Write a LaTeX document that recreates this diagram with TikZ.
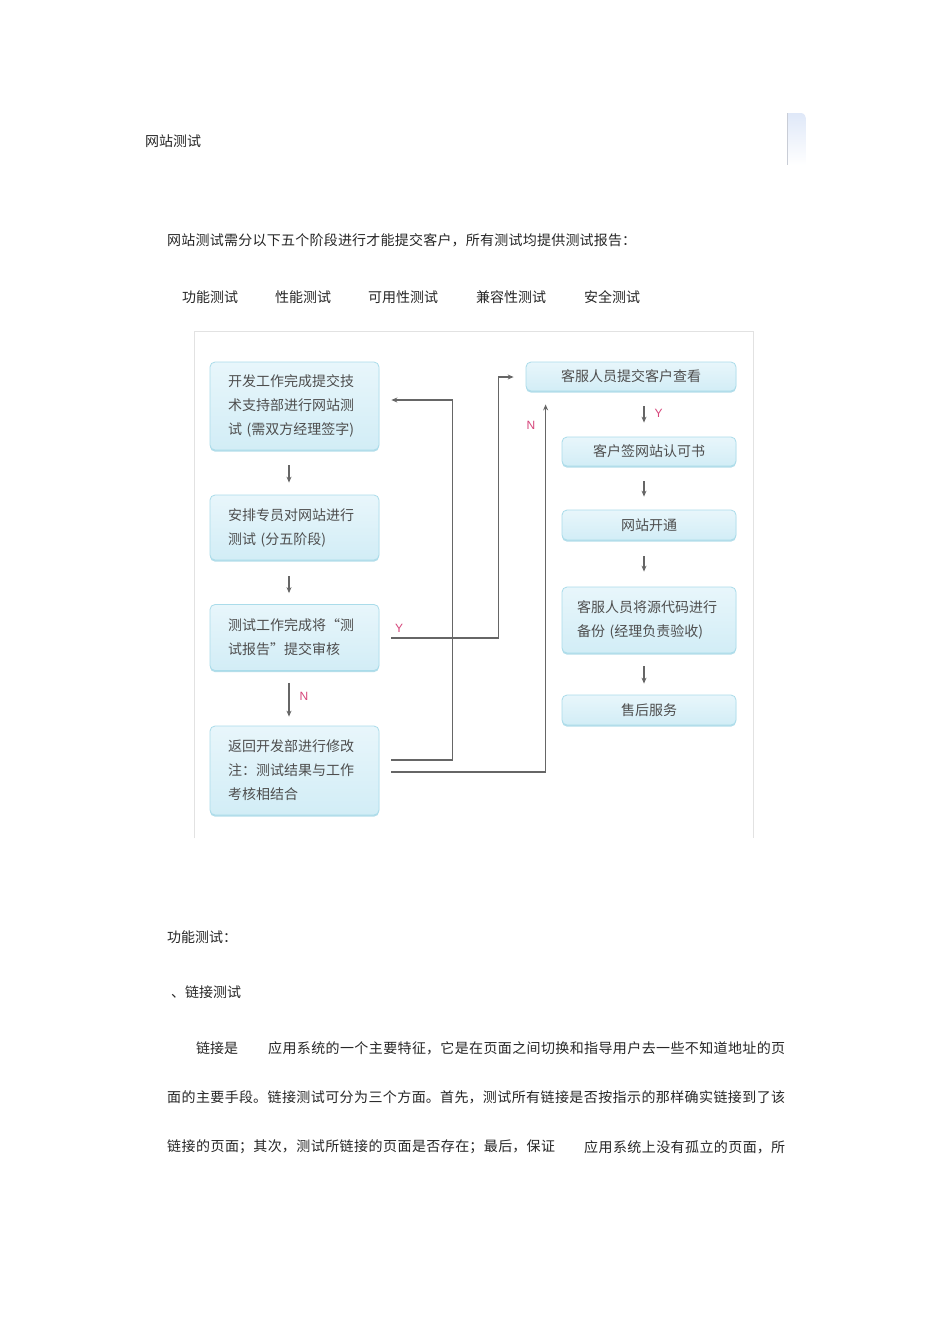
\documentclass[tikz,border=0pt]{standalone}
\usepackage{fontspec}
\setmainfont{Noto Sans CJK SC}
\newfontfamily\latf{Liberation Sans}
\usetikzlibrary{calc,shadows,arrows.meta}
\definecolor{boxtop}{HTML}{E8F6FB}
\definecolor{boxbot}{HTML}{D2EDF6}
\definecolor{boxline}{HTML}{AADCEA}
\definecolor{boxshadow}{HTML}{9CD3E3}
\definecolor{boxtext}{HTML}{4E4E4E}
\definecolor{arrc}{HTML}{666666}
\definecolor{labc}{HTML}{D6457A}
\definecolor{bodytext}{HTML}{262626}
\definecolor{framec}{HTML}{E2E2E2}
\definecolor{decotop}{HTML}{DFE8F8}
\definecolor{decoline}{HTML}{C9CDD6}
\newcommand{\jline}[2]{\parbox{#1pt}{\XeTeXlinebreaklocale "zh"\XeTeXlinebreakskip=0pt plus 4pt\parfillskip=0pt\tolerance=10000\relax #2\par}}
\tikzset{
  flowbox/.style={rounded corners=5pt, draw=boxline, line width=0.8pt,
    top color=boxtop, bottom color=boxbot,
    drop shadow={shadow xshift=0pt, shadow yshift=-1.6pt, fill=boxshadow, opacity=0.75},
    text=boxtext, font=\fontsize{14}{24}\selectfont, inner ysep=0pt},
  leftbox/.style={flowbox, minimum width=169pt, text width=133pt, inner xsep=18pt, align=left},
  rightbox/.style={flowbox, minimum width=174pt, minimum height=30pt, align=center},
  conn/.style={draw=arrc, line width=1.1pt},
  arr/.style={conn, -{Stealth[length=6pt,width=5pt]}},
  lab/.style={text=labc, font=\latf\fontsize{12}{13}\selectfont, inner sep=0pt},
  body/.style={anchor=west, inner sep=0pt, text=bodytext, font=\fontsize{14}{16}\selectfont},
}
\begin{document}
\begin{tikzpicture}[x=1pt,y=-1pt]
\useasboundingbox (0,0) rectangle (950,1344);
\fill[white] (0,0) rectangle (950,1344);

% top-right decoration
\shade[top color=decotop, bottom color=white]
  (787,113) -- (801,113) to[out=0,in=90] (806,120) -- (806,165) -- (787,165) -- cycle;
\draw[decoline, line width=0.8pt] (787,113) -- (787,165);

% texts above
\node[body] (title) at (145,141) {网站测试};
\node[body] (intro) at (167,240) {\jline{469}{网站测试需分以下五个阶段进行才能提交客户，所有测试均提供测试报告：}};
\node[body] (t1) at (182,297) {功能测试};
\node[body] (t2) at (275,297) {性能测试};
\node[body] (t3) at (368,297) {可用性测试};
\node[body] (t4) at (476,297) {兼容性测试};
\node[body] (t5) at (584,297) {安全测试};

% frame
\draw[framec, line width=0.8pt] (194,838) -- (194,331) -- (753,331) -- (753,838);

% left column
\node[leftbox, minimum height=88pt] (b1) at (294.5,406) {开发工作完成提交技\\术支持部进行网站测\\试 (需双方经理签字)};
\node[leftbox, minimum height=65pt] (b2) at (294.5,527.5) {安排专员对网站进行\\测试 (分五阶段)};
\node[leftbox, minimum height=66pt] (b3) at (294.5,637.5) {测试工作完成将“测\\试报告”提交审核};
\node[leftbox, minimum height=89pt] (b4) at (294.5,770.5) {返回开发部进行修改\\注：测试结果与工作\\考核相结合};

% right column
\node[flowbox, minimum width=210pt, minimum height=29pt, align=center] (r1) at (631,376.5) {客服人员提交客户查看};
\node[rightbox, minimum height=29pt] (r2) at (649,451.5) {客户签网站认可书};
\node[rightbox] (r3) at (649,525) {网站开通};
\node[rightbox, minimum height=66pt, text width=144pt, inner xsep=15pt, align=left] (r4) at (649,620) {客服人员将源代码进行\\备份 (经理负责验收)};
\node[rightbox] (r5) at (649,710) {售后服务};

% vertical arrows left
\draw[arr] ($(b1.south)+(-5.5,15)$) -- ($(b2.north)+(-5.5,-12)$);
\draw[arr] ($(b2.south)+(-5.5,16)$) -- ($(b3.north)+(-5.5,-11)$);
\draw[arr] ($(b3.south)+(-5.5,12)$) -- node[lab, pos=0.4, anchor=west, xshift=10pt] (nlab1) {N} ($(b4.north)+(-5.5,-9)$);

% vertical arrows right
\draw[arr] ($(r1.south)+(13,15)$) -- node[lab, pos=0.4, anchor=west, xshift=10pt] (ylab2) {Y} ($(r2.north)+(-5,-14)$);
\draw[arr] ($(r2.south)+(-5,15)$) -- ($(r3.north)+(-5,-13)$);
\draw[arr] ($(r3.south)+(-5,16)$) -- ($(r4.north)+(-5,-15)$);
\draw[arr] ($(r4.south)+(-5,13)$) -- ($(r5.north)+(-5,-11)$);

% loop connectors
\draw[arr] ($(b4.east)+(12,-10.5)$) -- ++(61,0) |- ($(b1.east)+(12,-6)$);
\draw[arr] ($(b3.east)+(12,0.5)$) -- ++(107,0) |- ($(r1.west)+(-12,0.5)$);
\draw[arr] ($(b4.east)+(12,1.5)$) -| ($(r1.south west)+(20,13)$);
\node[lab] (ylab1) at (399,628) {Y};
\node[lab] (nlab2) at (531,425) {N};

% texts below
\node[body] (h2) at (167,937) {功能测试：};
\node[body] (h3) at (171,992) {、链接测试};
\node[body] (p1a) at (196,1048) {链接是};
\node[body] (p1b) at (268,1048) {\jline{517}{应用系统的一个主要特征，它是在页面之间切换和指导用户去一些不知道地址的页}};
\node[body] (p2) at (167,1097) {\jline{618}{面的主要手段。链接测试可分为三个方面。首先，测试所有链接是否按指示的那样确实链接到了该}};
\node[body] (p3a) at (167,1147) {\jline{388}{链接的页面；其次，测试所链接的页面是否存在；最后，保证}};
\node[body] (p3b) at (584,1147) {\jline{201}{应用系统上没有孤立的页面，所}};
\end{tikzpicture}
\end{document}
